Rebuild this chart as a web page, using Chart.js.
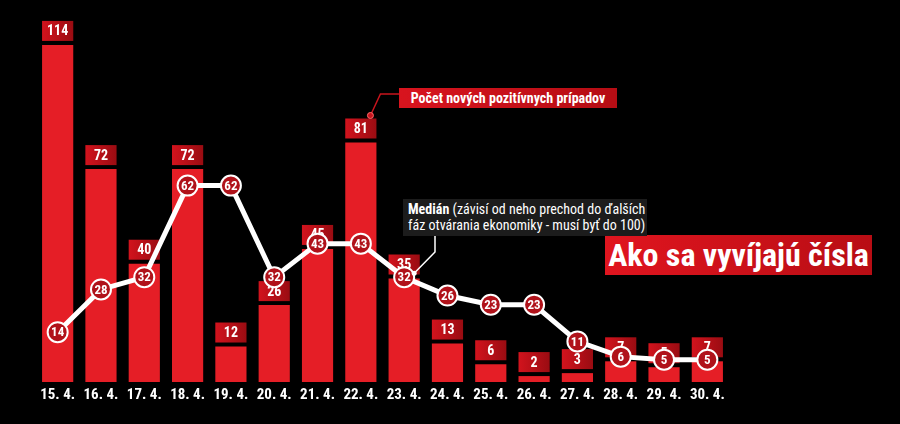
<!DOCTYPE html>
<html><head><meta charset="utf-8">
<script src="https://cdn.jsdelivr.net/npm/chart.js@4.4.1/dist/chart.umd.min.js"></script>
<style>
html,body{margin:0;padding:0;background:#000;}
#wrap{position:relative;width:900px;height:424px;background:#000;overflow:hidden;}
#c{position:absolute;left:0;top:0;}
.cond{font-family:"Liberation Sans Narrow","Roboto Condensed","Roboto",sans-serif;color:#fff;position:absolute;white-space:nowrap;}
#title{left:605px;top:235px;width:267px;height:40px;line-height:40px;text-align:center;font-weight:bold;font-size:32px;background:linear-gradient(90deg,#e0151f,#b80d14);}
#n1{left:399px;top:88px;width:218px;height:20px;line-height:20px;text-align:center;font-weight:bold;font-size:14px;background:linear-gradient(90deg,#d8141e,#b50d14);}
#n2{left:403px;top:199px;width:244px;height:37px;padding-top:2px;box-sizing:border-box;font-size:14px;line-height:16px;background:#1c1c1c;padding-left:5px;}
</style></head>
<body><div id="wrap"><canvas id="c" width="900" height="424"></canvas>
<div id="title" class="cond">Ako sa vyvíjajú čísla</div>
<div id="n1" class="cond">Počet nových pozitívnych prípadov</div>
<div id="n2" class="cond"><b>Medián</b> (závisí od neho prechod do ďalších<br>fáz otvárania ekonomiky - musí byť do 100)</div>
</div>
<script>
const dates = ['15. 4.','16. 4.','17. 4.','18. 4.','19. 4.','20. 4.','21. 4.','22. 4.','23. 4.','24. 4.','25. 4.','26. 4.','27. 4.','28. 4.','29. 4.','30. 4.'];
const newCases = [114,72,40,72,12,26,45,81,35,13,6,2,3,7,5,7];
const median = [14,28,32,62,62,32,43,43,32,26,23,23,11,6,5,5];

const FONT = '"Liberation Sans Narrow","Roboto Condensed","Roboto",sans-serif';

const labelPlugin = {
  id: 'valueLabels',
  afterDatasetDraw(chart, args) {
    const ctx = chart.ctx;
    ctx.save();
    if (args.index === 0) {
      args.meta.data.forEach((bar, i) => {
        const p = bar.getProps(['x','y','width'], true);
        const w = p.width, h = 20, x = p.x - w/2, y = p.y - 4 - h;
        const g = ctx.createLinearGradient(x, 0, x + w, 0);
        g.addColorStop(0, '#d2131d'); g.addColorStop(1, '#9a0c12');
        ctx.fillStyle = g; ctx.fillRect(x, y, w, h);
        ctx.fillStyle = '#fff'; ctx.font = 'bold 14px ' + FONT;
        ctx.textAlign = 'center'; ctx.textBaseline = 'middle';
        ctx.fillText(String(newCases[i]), p.x, y + h/2 + 1);
      });
    } else if (args.index === 1) {
      args.meta.data.forEach((pt, i) => {
        const p = pt.getProps(['x','y'], true);
        ctx.fillStyle = '#fff'; ctx.font = 'bold 13px ' + FONT;
        ctx.textAlign = 'center'; ctx.textBaseline = 'middle';
        ctx.fillText(String(median[i]), p.x, p.y + 1);
      });
    }
    ctx.restore();
  },
  afterDraw(chart) {
    const ctx = chart.ctx;
    ctx.save();
    const b = chart.getDatasetMeta(0).data[7].getProps(['x','y','width'], true);
    const bx = b.x + b.width/2 - 6, by = b.y - 24 - 3;
    ctx.strokeStyle = '#c8141d'; ctx.lineWidth = 1.5;
    ctx.beginPath(); ctx.moveTo(399, 94); ctx.lineTo(bx + 10, 94); ctx.lineTo(bx, by); ctx.stroke();
    ctx.fillStyle = '#c8141d'; ctx.strokeStyle = '#ff6a6a'; ctx.lineWidth = 1;
    ctx.beginPath(); ctx.arc(bx, by, 3, 0, Math.PI*2); ctx.fill(); ctx.stroke();
    const m = chart.getDatasetMeta(1).data[8].getProps(['x','y'], true);
    const mx = m.x + 10, my = m.y - 4;
    ctx.strokeStyle = '#fff'; ctx.lineWidth = 1.5;
    ctx.beginPath(); ctx.moveTo(435, 236); ctx.lineTo(435, 252); ctx.lineTo(mx, my); ctx.stroke();
    ctx.fillStyle = '#fff';
    ctx.beginPath(); ctx.arc(mx, my, 2.5, 0, Math.PI*2); ctx.fill();
    ctx.restore();
  }
};

new Chart(document.getElementById('c'), {
  data: {
    labels: dates,
    datasets: [
      { type: 'bar', data: newCases, yAxisID: 'y', backgroundColor: '#e51e26', order: 1,
        barPercentage: 0.72, categoryPercentage: 1 },
      { type: 'line', data: median, yAxisID: 'y2', order: 0, borderColor: '#fff', borderWidth: 5,
        pointRadius: 10, pointHoverRadius: 10, pointBackgroundColor: '#b0121a', pointBorderColor: '#fff',
        pointBorderWidth: 2, tension: 0, fill: false }
    ]
  },
  options: {
    responsive: false, animation: false, devicePixelRatio: 1,
    layout: { padding: { left: 36, right: 171, top: 39, bottom: 16 } },
    plugins: { legend: { display: false }, tooltip: { enabled: false } },
    scales: {
      x: { grid: { display: false, drawTicks: false }, border: { display: false },
           ticks: { color: '#fff', font: { family: FONT, size: 15, weight: 'bold' }, padding: 4, maxRotation: 0, autoSkip: false } },
      y: { display: false, min: 0, max: 116 },
      y2: { display: false, min: -2.3, max: 110 }
    }
  },
  plugins: [labelPlugin]
});
</script>
</body></html>
